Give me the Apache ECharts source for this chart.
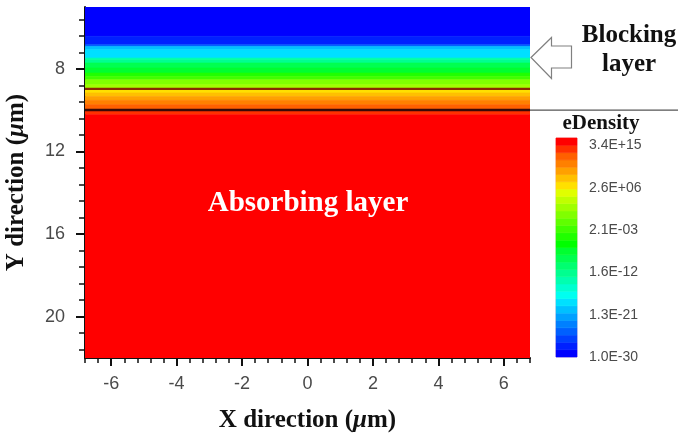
<!DOCTYPE html>
<html>
<head>
<meta charset="utf-8">
<script src="https://cdn.jsdelivr.net/npm/echarts@6/dist/echarts.min.js"></script>
<style>
html,body{margin:0;padding:0;background:#fff;}
#chart{width:678px;height:438px;}
</style>
</head>
<body>
<div id="chart"></div>
<script>
// ---- axis ranges & ticks ----
const xRange = [-6.8, 6.8];
const yRange = [5, 22];
const xMajorTicks = [-6, -4, -2, 0, 2, 4, 6];
const xMinorTicks = [-6.8,-6.4,-6.0,-5.6,-5.2,-4.8,-4.4,-4.0,-3.6,-3.2,-2.8,-2.4,-2.0,-1.6,-1.2,-0.8,-0.4,0,0.4,0.8,1.2,1.6,2.0,2.4,2.8,3.2,3.6,4.0,4.4,4.8,5.2,5.6,6.0,6.4,6.8];
const yMajorTicks = [8, 12, 16, 20];
const yMinorTicks = [5.6,6.4,7.2,8.0,8.8,9.6,10.4,11.2,12.0,12.8,13.6,14.4,15.2,16.0,16.8,17.6,18.4,19.2,20.0,20.8,21.6];

// ---- eDensity profile along Y (log10 of density), contour-filled layers ----
const layerTop    = [5.00, 6.42, 6.83, 6.91, 7.07, 7.47, 7.55, 7.71, 7.95, 8.20, 8.36, 8.52, 8.76, 9.00, 9.16, 9.33, 9.52, 9.73, 9.99, 10.22];
const layerBottom = [6.42, 6.83, 6.91, 7.07, 7.47, 7.55, 7.71, 7.95, 8.20, 8.36, 8.52, 8.76, 9.00, 9.16, 9.33, 9.52, 9.73, 9.99, 10.22, 22.00];
const layerLogDensity = [-29.2, -27.6, -24.5, -19.8, -18.2, -13.5, -11.9, -8.8, -7.2, -4.1, -2.5, 0.6, 2.2, 6.9, 8.5, 10.0, 11.6, 13.2, 14.7, 15.53];

// contour lines (Y positions, um)
const contourLevelsY = [8.97];
const interfaceY = [9.99];

// ---- colour-bar levels (log10 eDensity) ----
const levelEdges = [-30,-28.43,-26.86,-25.29,-23.72,-22.15,-20.58,-19.01,-17.44,-15.87,-14.30,-12.73,-11.16,-9.59,-8.02,-6.45,-4.88,-3.31,-1.74,-0.17,1.40,2.97,4.54,6.11,7.68,9.25,10.82,12.39,13.96,15.53,17.10];
const levelColors = ['#0000ff','#0020ff','#0040ff','#0060ff','#0080ff','#00a0ff','#00c0ff','#00e0ff','#00fff0','#00ffd0',
                     '#00ffb0','#00ff90','#00ff70','#00ff50','#00ff30','#00ff00','#20ff00','#40ff00','#60ff00','#80ff00',
                     '#a0ff00','#c0ff00','#e0ff00','#ffe000','#ffc000','#ffa000','#ff8000','#ff6000','#ff3000','#ff0000'];
const cbTickValues = [-30, -20.9, -11.8, -2.68, 6.41, 15.53];
const cbTickLabels = ['1.0E-30', '1.3E-21', '1.6E-12', '2.1E-03', '2.6E+06', '3.4E+15'];

function colorFor(v) {
  let idx = 0;
  for (let i = 0; i < levelEdges.length - 1; i++) if (v >= levelEdges[i]) idx = i;
  return levelColors[Math.min(idx, levelColors.length - 1)];
}

const chart = echarts.init(document.getElementById('chart'), null, {renderer: 'canvas'});
const labelFont = {fontFamily: 'Liberation Sans', fontSize: 18, color: '#4a4a4a'};
const serif = 'Liberation Serif';

const profileData = layerTop.map((t, i) => [t, layerBottom[i], layerLogDensity[i]]);
const cbData = levelColors.map((c, i) => [levelEdges[i], levelEdges[i + 1], i]);

const option = {
  animation: false,
  backgroundColor: '#ffffff',
  grid: [
    {left: 85, top: 7, width: 445, height: 351, show: false, containLabel: false, outerBoundsMode: 'none'},
    {left: 556, top: 138, width: 21, height: 219, show: true, borderColor: '#f0c4cc', borderWidth: 1, backgroundColor: 'transparent', containLabel: false, outerBoundsMode: 'none'}
  ],
  xAxis: [
    {
      type: 'value', gridIndex: 0, min: xRange[0], max: xRange[1], position: 'bottom',
      axisLine: {show: true, onZero: false, lineStyle: {color: '#111', width: 2}},
      axisTick: {show: true, customValues: xMajorTicks, length: 8, lineStyle: {color: '#111', width: 2}},
      axisLabel: Object.assign({show: true, customValues: xMajorTicks, margin: 17}, labelFont),
      splitLine: {show: false},
      name: '{b|X direction (}{i|μ}{b|m)}', nameLocation: 'middle', nameGap: 50,
      nameTextStyle: {rich: {
        b: {fontFamily: serif, fontWeight: 'bold', fontSize: 25, color: '#111'},
        i: {fontFamily: serif, fontWeight: 'bold', fontStyle: 'italic', fontSize: 25, color: '#111'}
      }}
    },
    {
      type: 'value', gridIndex: 0, min: xRange[0], max: xRange[1], position: 'bottom',
      axisLine: {show: false, onZero: false},
      axisTick: {show: true, customValues: xMinorTicks, length: 5, lineStyle: {color: '#111', width: 1.5}},
      axisLabel: {show: false}, splitLine: {show: false}
    },
    {type: 'value', gridIndex: 1, min: 0, max: 1, show: false}
  ],
  yAxis: [
    {
      type: 'value', gridIndex: 0, min: yRange[0], max: yRange[1], inverse: true, position: 'left',
      axisLine: {show: true, onZero: false, lineStyle: {color: '#111', width: 2}},
      axisTick: {show: true, customValues: yMajorTicks, length: 9, lineStyle: {color: '#111', width: 2}},
      axisLabel: Object.assign({show: true, customValues: yMajorTicks, margin: 20}, labelFont),
      splitLine: {show: false},
      name: '{b|Y direction (}{i|μ}{b|m)}', nameLocation: 'middle', nameGap: 56, nameRotate: 90,
      nameTextStyle: {rich: {
        b: {fontFamily: serif, fontWeight: 'bold', fontSize: 25, color: '#111'},
        i: {fontFamily: serif, fontWeight: 'bold', fontStyle: 'italic', fontSize: 25, color: '#111'}
      }}
    },
    {
      type: 'value', gridIndex: 0, min: yRange[0], max: yRange[1], inverse: true, position: 'left',
      axisLine: {show: false, onZero: false},
      axisTick: {show: true, customValues: yMinorTicks, length: 6, lineStyle: {color: '#111', width: 1.5}},
      axisLabel: {show: false}, splitLine: {show: false}
    },
    {
      type: 'value', gridIndex: 1, min: levelEdges[0], max: levelEdges[levelEdges.length - 1], position: 'right',
      axisLine: {show: false}, axisTick: {show: false}, splitLine: {show: false},
      axisLabel: {
        show: true, customValues: cbTickValues, margin: 12,
        fontFamily: 'Liberation Sans', fontSize: 14, color: '#4a4a4a',
        formatter: function (v) {
          let best = 0;
          cbTickValues.forEach((t, i) => { if (Math.abs(t - v) < Math.abs(cbTickValues[best] - v)) best = i; });
          return cbTickLabels[best];
        }
      }
    }
  ],
  series: [
    {
      type: 'custom', name: 'eDensity', xAxisIndex: 0, yAxisIndex: 0, clip: true, z: 1,
      data: profileData,
      renderItem: function (params, api) {
        const p0 = api.coord([xRange[0], api.value(0)]);
        const p1 = api.coord([xRange[1], api.value(1)]);
        const col = colorFor(api.value(2));
        return {
          type: 'rect',
          shape: {x: p0[0], y: Math.min(p0[1], p1[1]), width: p1[0] - p0[0], height: Math.abs(p1[1] - p0[1])},
          style: {fill: col, stroke: col, lineWidth: 0.6}
        };
      }
    },
    {
      type: 'line', xAxisIndex: 0, yAxisIndex: 0, symbol: 'none', z: 3, silent: true,
      data: [[xRange[0], contourLevelsY[0]], [xRange[1], contourLevelsY[0]]],
      lineStyle: {color: '#8a2a00', width: 2.2}
    },
    {
      type: 'line', xAxisIndex: 0, yAxisIndex: 0, symbol: 'none', z: 3, silent: true,
      data: [[xRange[0], interfaceY[0]], [xRange[1], interfaceY[0]]],
      lineStyle: {color: '#3a0808', width: 2.4}
    },
    {
      type: 'custom', name: 'colorbar', xAxisIndex: 2, yAxisIndex: 2, z: 1,
      data: cbData,
      renderItem: function (params, api) {
        const p0 = api.coord([0, api.value(1)]);
        const p1 = api.coord([1, api.value(0)]);
        const col = levelColors[api.value(2)];
        return {
          type: 'rect',
          shape: {x: p0[0], y: p0[1], width: p1[0] - p0[0], height: p1[1] - p0[1]},
          style: {fill: col, stroke: col, lineWidth: 0.6}
        };
      }
    }
  ]
};
chart.setOption(option);

const yIf = chart.convertToPixel({xAxisIndex: 0, yAxisIndex: 0}, [xRange[1], interfaceY[0]]);
chart.setOption({
  graphic: [
    {type: 'line', shape: {x1: yIf[0], y1: yIf[1], x2: 678, y2: yIf[1]}, style: {stroke: '#555', lineWidth: 1.2}, z: 10},
    {type: 'polygon', shape: {points: [[531, 57.5], [551.5, 37.5], [551.5, 46], [571.5, 46], [571.5, 68], [551.5, 68], [551.5, 78.5]]},
      style: {fill: '#fff', stroke: '#808080', lineWidth: 1.2}, z: 10},
    {type: 'text', x: 629, y: 36, style: {text: 'Blocking', fontFamily: serif, fontWeight: 'bold', fontSize: 25, fill: '#111', align: 'center', verticalAlign: 'middle'}, z: 10},
    {type: 'text', x: 629, y: 65, style: {text: 'layer', fontFamily: serif, fontWeight: 'bold', fontSize: 25, fill: '#111', align: 'center', verticalAlign: 'middle'}, z: 10},
    {type: 'text', x: 601, y: 124, style: {text: 'eDensity', fontFamily: serif, fontWeight: 'bold', fontSize: 21, fill: '#111', align: 'center', verticalAlign: 'middle'}, z: 10},
    {type: 'text', x: 308, y: 204, style: {text: 'Absorbing layer', fontFamily: serif, fontWeight: 'bold', fontSize: 29, fill: '#ffffff', align: 'center', verticalAlign: 'middle'}, z: 10}
  ]
});
</script>
</body>
</html>
